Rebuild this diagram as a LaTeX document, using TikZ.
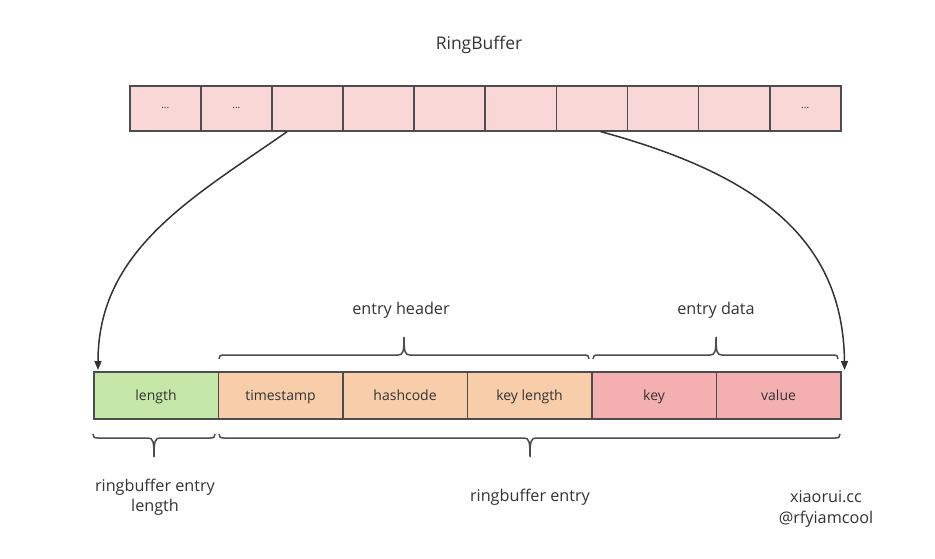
\documentclass[tikz,border=0pt]{standalone}
\usepackage{fontspec}
\setmainfont{Open Sans}
\usetikzlibrary{arrows.meta,calc}
\definecolor{cellpink}{HTML}{F8D7D6}
\definecolor{lgreen}{HTML}{C5E8A8}
\definecolor{lorange}{HTML}{F8CDAA}
\definecolor{lred}{HTML}{F4B0B0}
\definecolor{edge}{HTML}{4D4D4D}
\definecolor{txt}{HTML}{333333}
\tikzset{
  cellbox/.style={draw=edge, line width=1.6pt, fill=cellpink, minimum width=71pt, minimum height=45pt, inner sep=0pt, anchor=north west, font=\fontsize{10}{10}\selectfont, text=txt},
  fieldbox/.style={draw=edge, line width=1.6pt, minimum width=124.5pt, minimum height=47pt, inner sep=0pt, anchor=north west, font=\fontsize{14}{15}\selectfont, text=txt, text height=12pt, text depth=2pt},
  lbl/.style={font=\fontsize{16.2}{20}\selectfont, text=txt, align=center, inner sep=0pt},
  bracepath/.style={draw=edge, line width=1.5pt},
  conn/.style={draw=txt, line width=1.5pt, -{Triangle[length=9pt,width=7pt]}},
}
\begin{document}
\begin{tikzpicture}[x=1pt,y=-1pt]
\useasboundingbox (0,0) rectangle (935,559);
\node[lbl, font=\fontsize{17.5}{20}\selectfont] (title) at (479,45) {RingBuffer};
% top cells
\foreach \i/\t in {1/{...},2/{...},3/{},4/{},5/{},6/{},7/{},8/{},9/{},10/{...}} {
  \node[cellbox] (c\i) at ({129+(\i-1)*71.1},85) {\t};
}
% bottom fields
\node[fieldbox, fill=lgreen] (len) at (93,371) {length};
\node[fieldbox, fill=lorange] (ts) at (217.5,371) {timestamp};
\node[fieldbox, fill=lorange] (hc) at (342,371) {hashcode};
\node[fieldbox, fill=lorange] (kl) at (466.5,371) {key length};
\node[fieldbox, fill=lred] (key) at (591,371) {key};
\node[fieldbox, fill=lred] (val) at (715.5,371) {value};
% labels
\node[lbl] (eh) at (401,310) {entry header};
\node[lbl] (ed) at (716,310) {entry data};
\node[lbl] (rel) at (155,497) {ringbuffer entry\\length};
\node[lbl] (re) at (530,497) {ringbuffer entry};
\node[lbl, font=\fontsize{16.2}{21}\selectfont] (sig) at (826,509) {xiaorui.cc\\@rfyiamcool};
% braces above
\draw[bracepath] (219,359) .. controls (219,356) and (220,355) .. (224,355) -- (398,355) .. controls (403,355) and (404,352) .. (404,337) .. controls (404,352) and (405,355) .. (410,355) -- (584,355) .. controls (588,355) and (589,356) .. (589,359);
\draw[bracepath] (593,359) .. controls (593,356) and (594,355) .. (598,355) -- (710,355) .. controls (715,355) and (716,352) .. (716,337) .. controls (716,352) and (717,355) .. (722,355) -- (833,355) .. controls (837,355) and (838,356) .. (838,359);
% braces below
\draw[bracepath] (93,434) .. controls (93,437) and (94,438) .. (98,438) -- (148,438) .. controls (153,438) and (154,441) .. (154,457) .. controls (154,441) and (155,438) .. (160,438) -- (210,438) .. controls (214,438) and (215,437) .. (215,434);
\draw[bracepath] (219,434) .. controls (219,437) and (220,438) .. (224,438) -- (524,438) .. controls (529,438) and (530,441) .. (530,457) .. controls (530,441) and (531,438) .. (536,438) -- (835,438) .. controls (839,438) and (840,437) .. (840,434);
% connector end points
\coordinate (s1) at ($(c3.south west)+(16,0)$);
\coordinate (s2) at ($(c7.south west)+(45,0)$);
\coordinate (t1) at ($(len.north west)+(5,-1)$);
\coordinate (t2) at ($(val.north east)+(3,-1)$);
\draw[conn] (s1) .. controls (192,198) and (98,250) .. (t1);
\draw[conn] (s2) .. controls (760,175) and (843,240) .. (t2);
\end{tikzpicture}
\end{document}
